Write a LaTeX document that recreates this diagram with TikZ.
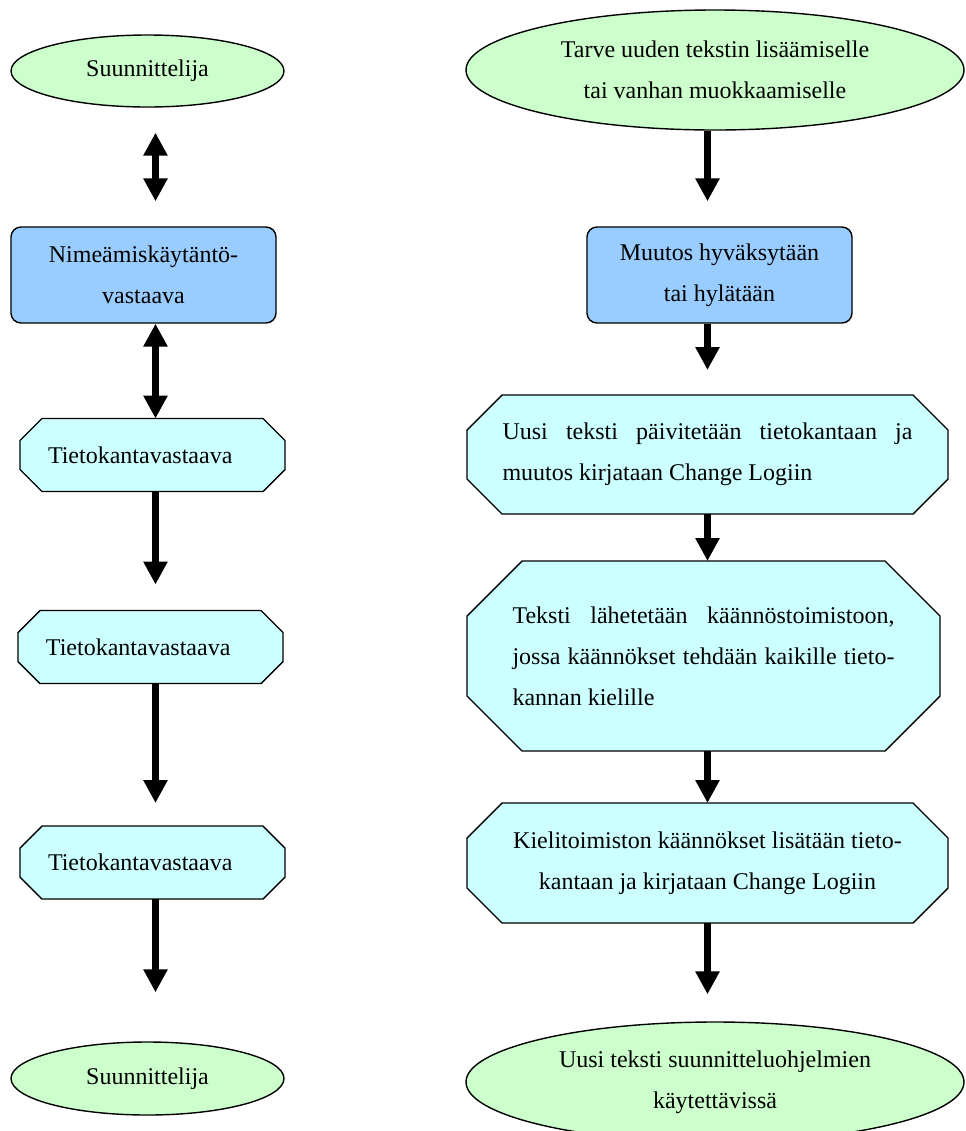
\documentclass[tikz,border=0pt]{standalone}
\usepackage{fontspec}
\setmainfont{Liberation Serif}
\usepackage{tikz}
\usetikzlibrary{arrows.meta, positioning, shapes.geometric, calc, backgrounds}
\definecolor{termgreen}{HTML}{CCFFCC}
\definecolor{roleblue}{HTML}{99CCFF}
\definecolor{stepcyan}{HTML}{CCFFFF}

\begin{document}
\begin{tikzpicture}[
  x=0.5pt, y=-0.5pt,
  every node/.style={font=\fontsize{12pt}{20.5pt}\selectfont},
  term/.style={ellipse, draw=black, line width=0.7pt, fill=termgreen,
               inner sep=1pt, align=center},
  rolebox/.style={rectangle, rounded corners=5pt, draw=black, line width=0.7pt,
                  fill=roleblue, minimum width=132.5pt, minimum height=48pt,
                  align=center},
  stepbox/.style={rectangle, inner xsep=0pt, outer sep=0pt},
  smallstep/.style={stepbox, minimum width=132.5pt, minimum height=36.5pt,
                    text width=104.5pt, align=left},
  stepline/.style={draw=black, line width=0.7pt, fill=stepcyan},
  arrow/.style={-{Triangle[length=11.5pt, width=11.5pt]}, line width=3.5pt},
  twoway/.style={{Triangle[length=11.5pt, width=11.5pt]}-{Triangle[length=11.5pt, width=11.5pt]},
                 line width=3.5pt}
]
  \useasboundingbox (0,0) rectangle (965,1131);

  \coordinate (colL) at (155.5,0);
  \coordinate (colR) at (707.5,0);

  \node[term, minimum width=136.5pt, minimum height=36pt] (desL1) at (147.5,71) {Suunnittelija};
  \node[rolebox] (nimeL) at (143.5,275) {Nimeämiskäytäntö-\\vastaava};
  \node[smallstep] (tkL1) at (152.5,455) {Tietokantavastaava};
  \node[smallstep] (tkL2) at (150.5,647) {Tietokantavastaava};
  \node[smallstep] (tkL3) at (152.5,862.5) {Tietokantavastaava};
  \node[term, minimum width=136.5pt, minimum height=36.5pt] (desL2) at (147.5,1078.5) {Suunnittelija};

  \node[term, minimum width=249pt, minimum height=60pt] (needR) at (715,70)
    {Tarve uuden tekstin lisäämiselle\\tai vanhan muokkaamiselle};
  \node[rolebox] (decR) at (719.5,275) {Muutos hyväksytään\\tai hylätään};
  \node[stepbox, minimum width=240.5pt, minimum height=59.5pt, text width=205pt,
        align=justify] (updR) at (707.5,454.5)
    {Uusi teksti päivitetään tietokantaan ja\linebreak muutos kirjataan Change Logiin};
  \node[stepbox, minimum width=236.5pt, minimum height=95pt, text width=191pt,
        align=justify] (sendR) at (703.5,656)
    {Teksti lähetetään käännöstoimistoon,\linebreak jossa käännökset tehdään kaikille tieto-\linebreak kannan kielille};
  \node[stepbox, minimum width=240.5pt, minimum height=60pt, align=center] (addR) at (707.5,863)
    {Kielitoimiston käännökset lisätään tieto-\\kantaan ja kirjataan Change Logiin};
  \node[term, minimum width=249pt, minimum height=60pt] (doneR) at (715,1082)
    {Uusi teksti suunnitteluohjelmien\\käytettävissä};

  \begin{scope}[on background layer]
    \foreach \n/\c in {tkL1/11pt, tkL2/11pt, tkL3/11pt, updR/17.5pt, sendR/27.5pt, addR/17.5pt}
      \path[stepline] ($(\n.north west)+(\c,0pt)$) -- ($(\n.north east)-(\c,0pt)$)
        -- ($(\n.north east)-(0pt,\c)$) -- ($(\n.south east)+(0pt,\c)$)
        -- ($(\n.south east)-(\c,0pt)$) -- ($(\n.south west)+(\c,0pt)$)
        -- ($(\n.south west)+(0pt,\c)$) -- ($(\n.north west)-(0pt,\c)$) -- cycle;
  \end{scope}

  \draw[twoway, shorten <=12.5pt, shorten >=12.5pt] (desL1.south -| colL) -- (nimeL.north -| colL);
  \draw[twoway] (nimeL.south -| colL) -- (tkL1.north -| colL);
  \draw[arrow, shorten >=13pt] (tkL1.south -| colL) -- (tkL2.north -| colL);
  \draw[arrow, shorten >=11.5pt] (tkL2.south -| colL) -- (tkL3.north -| colL);
  \draw[arrow, shorten >=24.5pt] (tkL3.south -| colL) -- (desL2.north -| colL);

  \draw[arrow, shorten >=12.5pt] (needR.south -| colR) -- (decR.north -| colR);
  \draw[arrow, shorten >=12.5pt] (decR.south -| colR) -- (updR.north -| colR);
  \draw[arrow] (updR.south -| colR) -- (sendR.north -| colR);
  \draw[arrow] (sendR.south -| colR) -- (addR.north -| colR);
  \draw[arrow, shorten >=13.5pt] (addR.south -| colR) -- (doneR.north -| colR);
\end{tikzpicture}
\end{document}
